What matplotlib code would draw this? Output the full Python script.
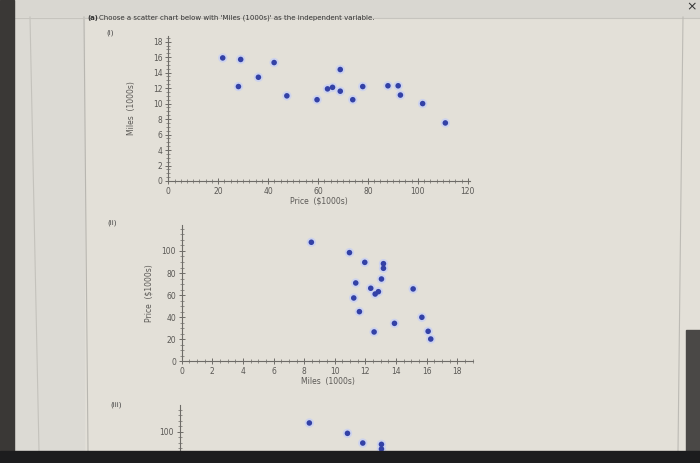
import matplotlib.pyplot as plt
from matplotlib.patches import Rectangle
from matplotlib.lines import Line2D
from matplotlib.ticker import MultipleLocator

# chart (i): price on x, miles on y
price_i = [21.8, 28.1, 29.0, 36.1, 42.4, 47.5, 59.6, 63.8, 65.8, 68.9, 68.9,
           73.9, 77.9, 88.0, 92.1, 93.0, 101.9, 111.0]
miles_i = [15.9, 12.2, 15.7, 13.4, 15.3, 11.0, 10.5, 11.9, 12.1, 14.4, 11.6,
           10.5, 12.2, 12.3, 12.3, 11.1, 10.0, 7.5]

# chart (ii) / (iii): miles on x, price on y
miles_ii = [8.47, 10.96, 11.96, 13.18, 13.18, 13.05, 11.37, 12.35, 15.12, 12.85,
            12.64, 11.24, 11.61, 15.69, 13.90, 16.10, 12.57, 16.27]
price_ii = [107.9, 98.5, 89.7, 88.5, 84.3, 74.6, 71.0, 66.2, 65.6, 63.1,
            61.0, 57.4, 45.0, 39.9, 34.4, 27.2, 26.6, 20.2]

title = "Choose a scatter chart below with 'Miles (1000s)' as the independent variable."

W, H = 700, 463
bg = '#e3e0d8'
dot = '#3341a6'
halo = '#cdd3ee'
axcol = '#6e6c68'
txtcol = '#5a5855'

fig = plt.figure(figsize=(7, 4.63), dpi=100)
fig.patch.set_facecolor(bg)


def px(x, y, w, h):
    # pixel box (from top-left) -> figure fraction
    return [x / W, 1 - (y + h) / H, w / W, h / H]


def style(ax, xmin, ymin):
    ax.set_facecolor('none')
    for s in ['top', 'right']:
        ax.spines[s].set_visible(False)
    for s in ['left', 'bottom']:
        ax.spines[s].set_color(axcol)
        ax.spines[s].set_linewidth(0.8)
    ax.xaxis.set_minor_locator(MultipleLocator(xmin))
    ax.yaxis.set_minor_locator(MultipleLocator(ymin))
    ax.tick_params(which='major', direction='inout', length=5, width=0.7,
                   colors=axcol, labelsize=5.5, labelcolor=txtcol, pad=1.5)
    ax.tick_params(which='minor', direction='inout', length=2.5, width=0.5,
                   colors=axcol)


def dots(ax, x, y):
    ax.scatter(x, y, s=45, color=halo, edgecolors='none', zorder=3, clip_on=False)
    ax.scatter(x, y, s=16, color=dot, edgecolors='none', zorder=4, clip_on=False)


# (i)
ax1 = fig.add_axes(px(168.3, 36, 302, 145))
ax1.set_xlim(0, 121)
ax1.set_ylim(0, 18.73)
ax1.set_xticks(range(0, 121, 20))
ax1.set_yticks(range(0, 19, 2))
style(ax1, 2.5, 0.5)
dots(ax1, price_i, miles_i)
ax1.set_xlabel('Price  ($1000s)', fontsize=5.5, color=txtcol, labelpad=1)
ax1.set_ylabel('Miles  (1000s)', fontsize=5.5, color=txtcol, labelpad=12)

# (ii)
ax2 = fig.add_axes(px(181.7, 224.5, 291.6, 136.8))
ax2.set_xlim(0, 19.05)
ax2.set_ylim(0, 124)
ax2.set_xticks(range(0, 19, 2))
ax2.set_yticks(range(0, 101, 20))
style(ax2, 0.5, 5)
dots(ax2, miles_ii, price_ii)
ax2.set_xlabel('Miles  (1000s)', fontsize=5.5, color=txtcol, labelpad=1)
ax2.set_ylabel('Price  ($1000s)', fontsize=5.5, color=txtcol, labelpad=6)

# (iii), cut off by the bottom of the screen: only its top shows
ax3 = fig.add_axes(px(179.7, 405.2, 291.6, 136.8))
ax3.set_xlim(0, 19.05)
ax3.set_ylim(0, 124)
ax3.set_yticks([100])
style(ax3, 0.5, 5)
ax3.tick_params(axis='x', which='both', bottom=False, labelbottom=False)
dots(ax3, miles_ii, price_ii)

# page text
fig.text(87 / W, 1 - 18 / H, '(a)', fontsize=5, fontweight='bold', color='#333', va='center')
fig.text(99 / W, 1 - 18 / H, title, fontsize=5, color='#333', va='center')
fig.text(106 / W, 1 - 33 / H, '(i)', fontsize=5, color='#444', va='center')
fig.text(107 / W, 1 - 223 / H, '(ii)', fontsize=5, color='#444', va='center')
fig.text(110 / W, 1 - 405 / H, '(iii)', fontsize=5, color='#444', va='center')

# screen frame around the page
fig.add_artist(Rectangle((0, 1 - 17 / H), 1, 17 / H, transform=fig.transFigure,
                         color='#d9d7d1', zorder=-1))
fig.add_artist(Rectangle((14 / W, 0), 70 / W, 1 - 17 / H, transform=fig.transFigure,
                         color='#dcdad4', zorder=-1))
fig.add_artist(Line2D([84 / W, 88 / W], [1 - 17 / H, 1 - 451 / H], transform=fig.transFigure,
                      color='#b8b6b0', lw=0.8))
fig.add_artist(Line2D([30 / W, 39 / W], [1 - 17 / H, 1 - 451 / H], transform=fig.transFigure,
                      color='#c4c2bc', lw=0.8))
fig.add_artist(Line2D([0, 1], [1 - 17.5 / H, 1 - 17.5 / H], transform=fig.transFigure,
                      color='#c6c4be', lw=0.8))
fig.add_artist(Line2D([683 / W, 678 / W], [1 - 17 / H, 1 - 451 / H], transform=fig.transFigure,
                      color='#bdbbb5', lw=0.8))
fig.add_artist(Rectangle((0, 0), 14 / W, 1, transform=fig.transFigure,
                         color='#3a3836', zorder=10))
fig.add_artist(Rectangle((686 / W, 0), 14 / W, 1 - 330 / H, transform=fig.transFigure,
                         color='#4a4846', zorder=10))
fig.add_artist(Rectangle((0, 0), 1, 12 / H, transform=fig.transFigure,
                         color='#1c1c1e', zorder=11))
fig.text(692 / W, 1 - 7 / H, '×', fontsize=9, color='#333', ha='center', va='center')

fig.savefig('out.png', dpi=100, facecolor=fig.get_facecolor())
